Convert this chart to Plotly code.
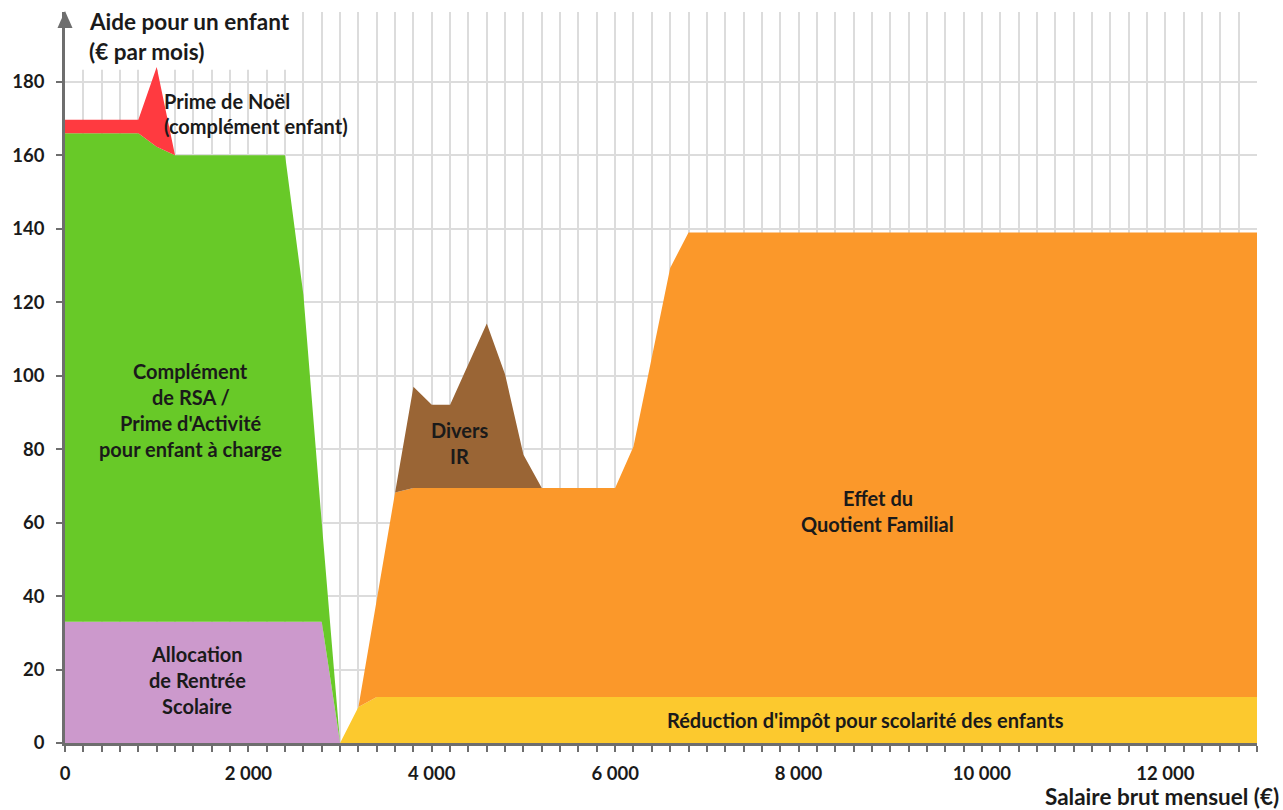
import plotly.graph_objects as go

# Salary grid (gross monthly, EUR) and aid components (EUR per month, per child)
ars_x = [0, 2800, 3000]
ars_y = [33, 33, 0]

rsa_x = [0, 800, 1000, 1200, 2400, 2600, 2800, 3000]
rsa_y = [133, 133, 129.3, 127, 127, 89, 27, 0]

noel_x = [0, 800, 1000, 1200]
noel_y = [3.7, 3.7, 21.7, 0]

scol_x = [3000, 3200, 3400, 13000]
scol_y = [0, 9.8, 12.5, 12.5]

qf_x = [3000, 3200, 3400, 3600, 3800, 6000, 6200, 6400, 6600, 6800, 13000]
qf_y = [0, 0, 26.5, 55.7, 56.9, 56.9, 68.2, 92.5, 116.8, 126.5, 126.5]

ir_x = [3600, 3800, 4000, 4200, 4400, 4600, 4800, 5000, 5200]
ir_y = [0, 27.6, 22.7, 22.7, 33.8, 44.8, 30.9, 9.1, 0]

x_ticks = [0, 2000, 4000, 6000, 8000, 10000, 12000]
x_tick_text = ["0", "2 000", "4 000", "6 000", "8 000", "10 000", "12 000"]
y_ticks = [0, 20, 40, 60, 80, 100, 120, 140, 160, 180]

FONT = "Lato"
TXT = "#1a1a1a"
AXIS = "#6e6e6e"
GRID = "#dcdcdc"

series = [
    ("Allocation de Rentrée Scolaire", ars_x, ars_y, "#cc99cc"),
    ("Complément de RSA / Prime d'Activité", rsa_x, rsa_y, "#68c928"),
    ("Prime de Noël", noel_x, noel_y, "#ff3a40"),
    ("Réduction d'impôt scolarité", scol_x, scol_y, "#fcc92e"),
    ("Effet du Quotient Familial", qf_x, qf_y, "#fb982a"),
    ("Divers IR", ir_x, ir_y, "#9a6535"),
]

fig = go.Figure()
for name, xs, ys, col in series:
    fig.add_trace(go.Scatter(
        x=xs, y=ys, name=name, mode="none",
        stackgroup="aide", stackgaps="interpolate",
        fillcolor=col, hoverinfo="skip", line=dict(width=0),
    ))


def label(lines, x, y, anchor="center", size=20, step=26):
    n = len(lines)
    for i, t in enumerate(lines):
        fig.add_annotation(
            x=x, y=y, text=t, showarrow=False, xanchor=anchor, yanchor="middle",
            yshift=((n - 1) / 2 - i) * step, align=anchor,
            font=dict(family=FONT, size=size, color=TXT, weight="bold"),
        )


label(["Prime de Noël", "(complément enfant)"], 1058, 171.3, anchor="left", step=25)
label(["Complément", "de RSA /", "Prime d'Activité", "pour enfant à charge"], 1374, 90.6)
label(["Allocation", "de Rentrée", "Scolaire"], 1440, 17.1)
label(["Divers", "IR"], 4297, 81.7)
label(["Effet du", "Quotient Familial"], 8866, 63.1)
label(["Réduction d'impôt pour scolarité des enfants"], 8735, 6.2)

# white box behind the y-axis title
fig.add_shape(type="rect", xref="x", yref="y", x0=20, x1=2510, y0=183.3, y1=199,
              fillcolor="white", line=dict(width=0), layer="between")
label(["Aide pour un enfant", "(€ par mois)"], 240, 192.3, anchor="left", size=22.5, step=30)

# arrow head on the y axis
fig.add_shape(type="path", xref="paper", yref="paper", xsizemode="pixel", ysizemode="pixel",
              xanchor=0, yanchor=1, path="M-7.5,-16 L7.5,-16 L0,1 Z",
              fillcolor=AXIS, line=dict(width=0), layer="above")

fig.add_annotation(
    xref="paper", yref="paper", x=1, y=0, xanchor="right", yanchor="middle",
    xshift=24, yshift=-53, showarrow=False, text="Salaire brut mensuel (€)",
    font=dict(family=FONT, size=22.5, color=TXT, weight="bold"),
)

fig.update_xaxes(
    range=[0, 13000], tickvals=x_ticks, ticktext=x_tick_text,
    showgrid=True, gridcolor=GRID, gridwidth=1.5,
    showline=True, linecolor=AXIS, linewidth=2.5,
    ticks="outside", ticklen=6, tickwidth=2, tickcolor=AXIS,
    minor=dict(dtick=200, tick0=0, ticks="outside", ticklen=6, tickwidth=2,
               tickcolor=AXIS, showgrid=True, gridcolor=GRID, gridwidth=1.5),
    tickfont=dict(family=FONT, size=18.5, color=TXT, weight="bold"),
    ticklabelstandoff=6, zeroline=False,
)
fig.update_yaxes(
    range=[0, 199], tickvals=y_ticks,
    showgrid=True, gridcolor=GRID, gridwidth=1.5,
    showline=True, linecolor=AXIS, linewidth=2.5,
    ticks="outside", ticklen=6, tickwidth=2, tickcolor=AXIS,
    tickfont=dict(family=FONT, size=18.5, color=TXT, weight="bold"),
    ticklabelstandoff=8, zeroline=False,
)
fig.update_layout(
    width=1283, height=810, showlegend=False,
    margin=dict(l=63, r=26, t=12, b=67),
    paper_bgcolor="white", plot_bgcolor="white",
)
fig.write_html("out.html")
